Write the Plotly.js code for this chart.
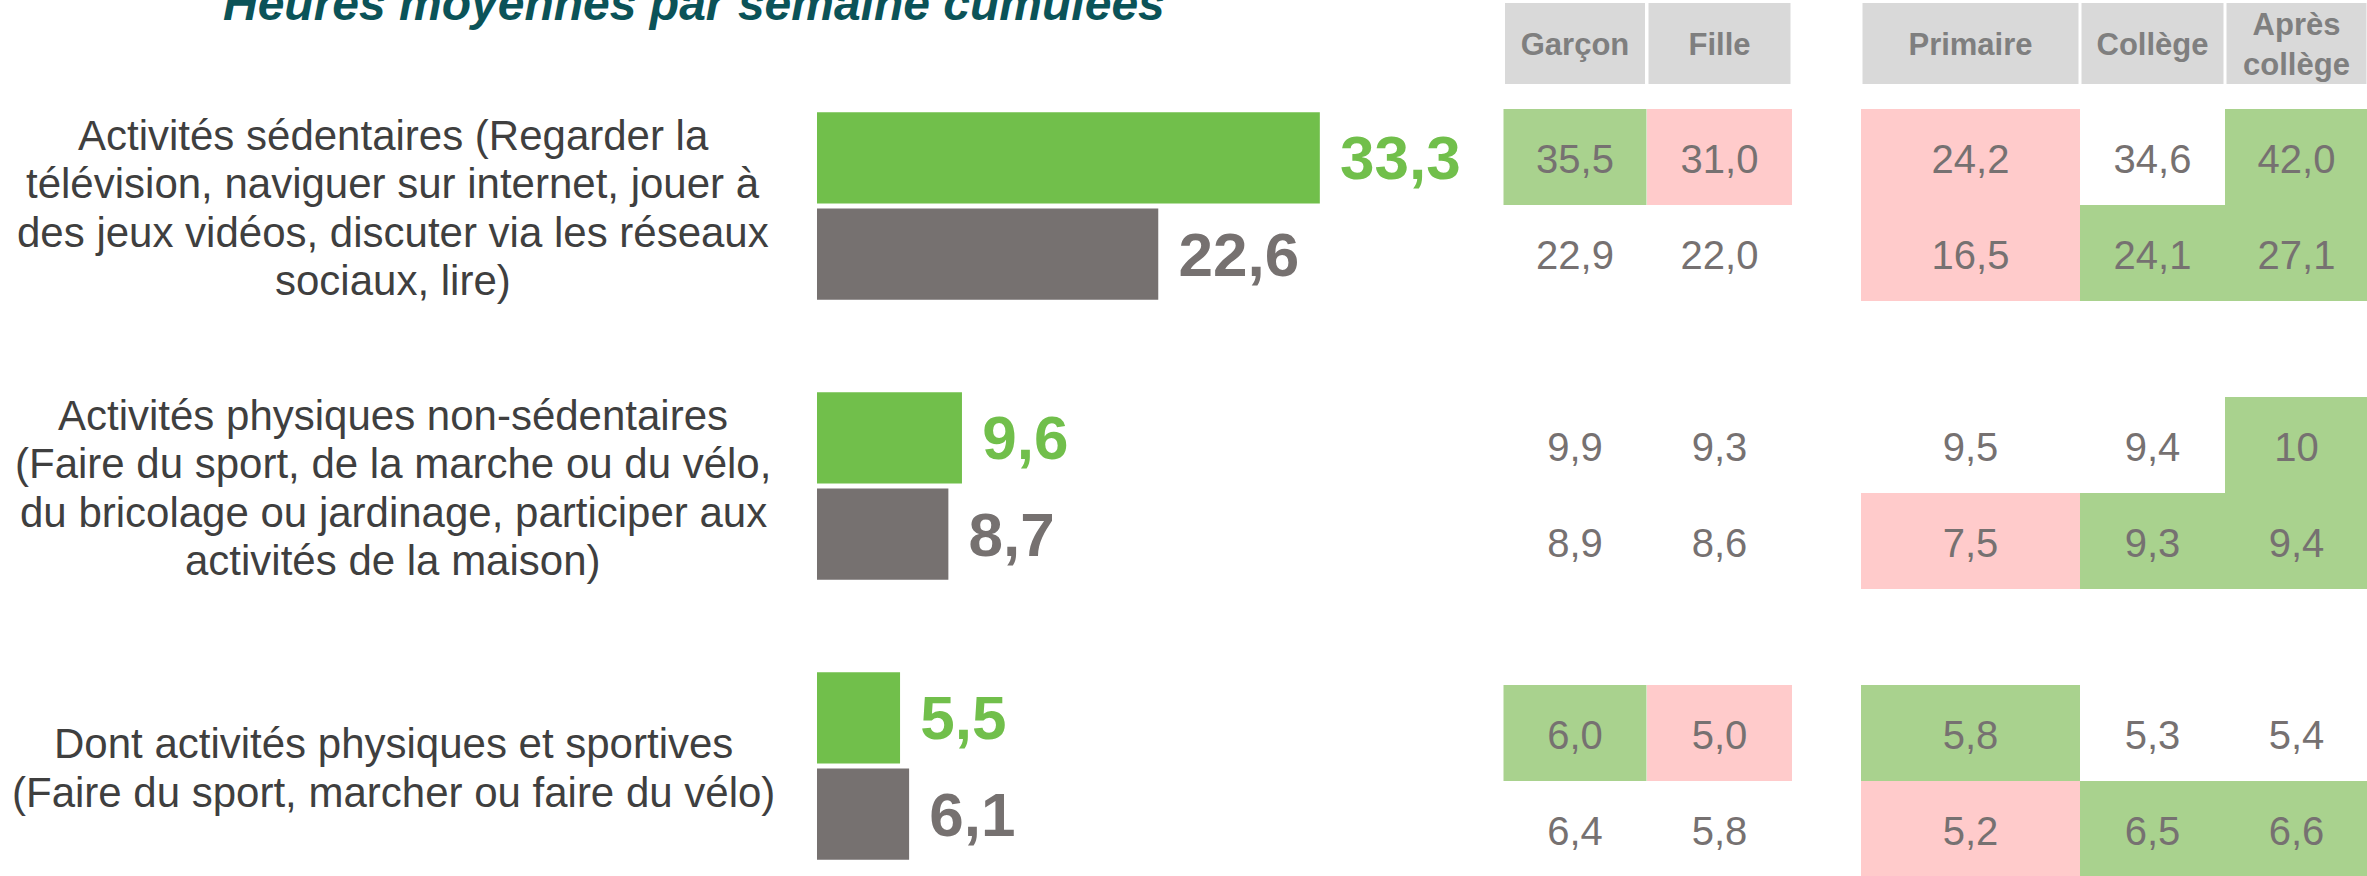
<!DOCTYPE html>
<html>
<head>
<meta charset="utf-8">
<script src="https://cdn.plot.ly/plotly-3.0.1.min.js"></script>
<style>html,body{margin:0;padding:0;background:#fff;}#chart{width:2367px;height:876px;}</style>
</head>
<body>
<div id="chart"></div>
<script>
// ---------- DATA ----------
const chartTitle = 'Heures moyennes par semaine cumulées';
const categoryLines = [
  ['Activités sédentaires (Regarder la', 'télévision, naviguer sur internet, jouer à', 'des jeux vidéos, discuter via les réseaux', 'sociaux, lire)'],
  ['Activités physiques non-sédentaires', '(Faire du sport, de la marche ou du vélo,', 'du bricolage ou jardinage, participer aux', 'activités de la maison)'],
  ['Dont activités physiques et sportives', '(Faire du sport, marcher ou faire du vélo)']
];
const valuesGreen = [33.3, 9.6, 5.5];
const valuesGray = [22.6, 8.7, 6.1];

const tableHeaders = ['Garçon', 'Fille', 'Primaire', 'Collège', 'Après<br>collège'];
// rows: [cat1 green, cat1 gray, cat2 green, cat2 gray, cat3 green, cat3 gray]
const colGarcon  = ['35,5', '22,9', '9,9', '8,9', '6,0', '6,4'];
const colFille   = ['31,0', '22,0', '9,3', '8,6', '5,0', '5,8'];
const colPrimaire = ['24,2', '16,5', '9,5', '7,5', '5,8', '5,2'];
const colCollege = ['34,6', '24,1', '9,4', '9,3', '5,3', '6,5'];
const colApres   = ['42,0', '27,1', '10', '9,4', '5,4', '6,6'];
// significance: '+' higher, '-' lower, '' not significant
const sigGarcon  = ['+', '', '', '', '+', ''];
const sigFille   = ['-', '', '', '', '-', ''];
const sigPrimaire = ['-', '-', '', '-', '+', '-'];
const sigCollege = ['', '+', '', '+', '', '+'];
const sigApres   = ['+', '+', '+', '+', '', '+'];

// ---------- STYLE / LAYOUT CONSTANTS ----------
const FONT = '"Liberation Sans", Arial, sans-serif';
const GREEN = '#71BF4B', GRAY = '#767170';
const CELL_GREEN = '#A9D28E', CELL_PINK = '#FFCBCB';
const colCenter = [1575, 1719.5, 1970.5, 2152.5, 2296.5];
const colWidth = [143, 145, 219, 145, 143];
const sigColor = {'+': CELL_GREEN, '-': CELL_PINK, '': 'rgba(0,0,0,0)'};

const tableCols = [colGarcon, colFille, colPrimaire, colCollege, colApres];
const tableSigs = [sigGarcon, sigFille, sigPrimaire, sigCollege, sigApres];

const catIdx = categoryLines.map((_, i) => i);

// bars
const traceGreen = {
  type: 'bar', orientation: 'h', x: valuesGreen, y: catIdx,
  marker: {color: GREEN},
  texttemplate: '\u00a0%{x:.1f}', textposition: 'outside', constraintext: 'none', cliponaxis: false,
  textfont: {family: FONT, size: 62, color: GREEN, weight: 'bold'},
  hoverinfo: 'skip', showlegend: false
};
const traceGray = {
  type: 'bar', orientation: 'h', x: valuesGray, y: catIdx,
  marker: {color: GRAY},
  texttemplate: '\u00a0%{x:.1f}', textposition: 'outside', constraintext: 'none', cliponaxis: false,
  textfont: {family: FONT, size: 62, color: GRAY, weight: 'bold'},
  hoverinfo: 'skip', showlegend: false
};

// table cells
const TEXT_SHIFT = 0.02;
const cx = [], cbase = [], ch = [], cw = [], coff = [], ccol = [], tx = [], ty = [], tt = [];
tableCols.forEach((col, c) => {
  col.forEach((val, k) => {
    const g = Math.floor(k / 2), sub = k % 2;
    cx.push(colCenter[c]); cw.push(colWidth[c]); coff.push(-colWidth[c] / 2);
    cbase.push(g - 1 / 3 + sub / 3); ch.push(1 / 3);
    ccol.push(sigColor[tableSigs[c][k]]);
    tx.push(colCenter[c]); ty.push(g - 1 / 6 + sub / 3 + TEXT_SHIFT); tt.push(val);
  });
});
const traceCells = {
  type: 'bar', x: cx, y: ch, base: cbase, width: cw, offset: coff,
  xaxis: 'x2', yaxis: 'y2', marker: {color: ccol, line: {width: 0}},
  hoverinfo: 'skip', showlegend: false
};
const traceCellText = {
  type: 'scatter', mode: 'text', x: tx, y: ty, text: tt,
  xaxis: 'x2', yaxis: 'y2', cliponaxis: false,
  textfont: {family: FONT, size: 40, color: '#767171'},
  hoverinfo: 'skip', showlegend: false
};
const hdrW = colWidth.map(w => w - 3);
const traceHeader = {
  type: 'bar', x: colCenter, y: colCenter.map(() => 0.2813), base: colCenter.map(() => -0.7014),
  width: hdrW, offset: hdrW.map(w => -w / 2),
  xaxis: 'x2', yaxis: 'y2', marker: {color: '#D9D9D9', line: {width: 0}},
  hoverinfo: 'skip', showlegend: false
};
const traceHeaderText = {
  type: 'scatter', mode: 'text', x: colCenter, y: colCenter.map(() => -0.548), text: tableHeaders,
  xaxis: 'x2', yaxis: 'y2', cliponaxis: false,
  textfont: {family: FONT, size: 31, color: '#7F7F7F', weight: 'bold'},
  hoverinfo: 'skip', showlegend: false
};

// annotations: category labels + title
const annotations = [];
const LINE = 48.5 / 280;
categoryLines.forEach((lines, g) => {
  const n = lines.length;
  lines.forEach((ln, i) => {
    annotations.push({
      xref: 'paper', yref: 'y', x: 393 / 2367, y: g + (i - (n - 1) / 2) * LINE + 2 / 280,
      xanchor: 'center', yanchor: 'middle', text: ln, showarrow: false,
      font: {family: FONT, size: 42, color: '#3F3F3F'}
    });
  });
});
annotations.push({
  xref: 'paper', yref: 'paper', x: 694 / 2367, y: 1 - 4 / 876, xanchor: 'center', yanchor: 'middle',
  text: '<b><i>' + chartTitle + '</i></b>', showarrow: false,
  font: {family: FONT, size: 48, color: '#0B5358'}
});

const K = 15.1;
const layout = {
  width: 2367, height: 876, margin: {l: 0, r: 0, t: 0, b: 0},
  paper_bgcolor: '#ffffff', plot_bgcolor: 'rgba(0,0,0,0)',
  separators: ', ', barmode: 'group', bargap: 0.314, bargroupgap: 0.05,
  hovermode: false, showlegend: false,
  xaxis: {domain: [0.3, 0.62], range: [-(817 - 0.3 * 2367) / K, (0.62 * 2367 - 817) / K], visible: false, fixedrange: true},
  yaxis: {domain: [0, 1], range: [(876 - 206) / 280, -206 / 280], visible: false, fixedrange: true},
  xaxis2: {domain: [1494 / 2367, 1], range: [1494, 2367], anchor: 'y2', visible: false, fixedrange: true},
  yaxis2: {domain: [0, 1], range: [(876 - 205) / 288, -205 / 288], anchor: 'x2', visible: false, fixedrange: true},
  annotations: annotations
};

Plotly.newPlot('chart', [traceGreen, traceGray, traceHeader, traceCells, traceHeaderText, traceCellText], layout,
  {staticPlot: true, displayModeBar: false});
</script>
</body>
</html>
